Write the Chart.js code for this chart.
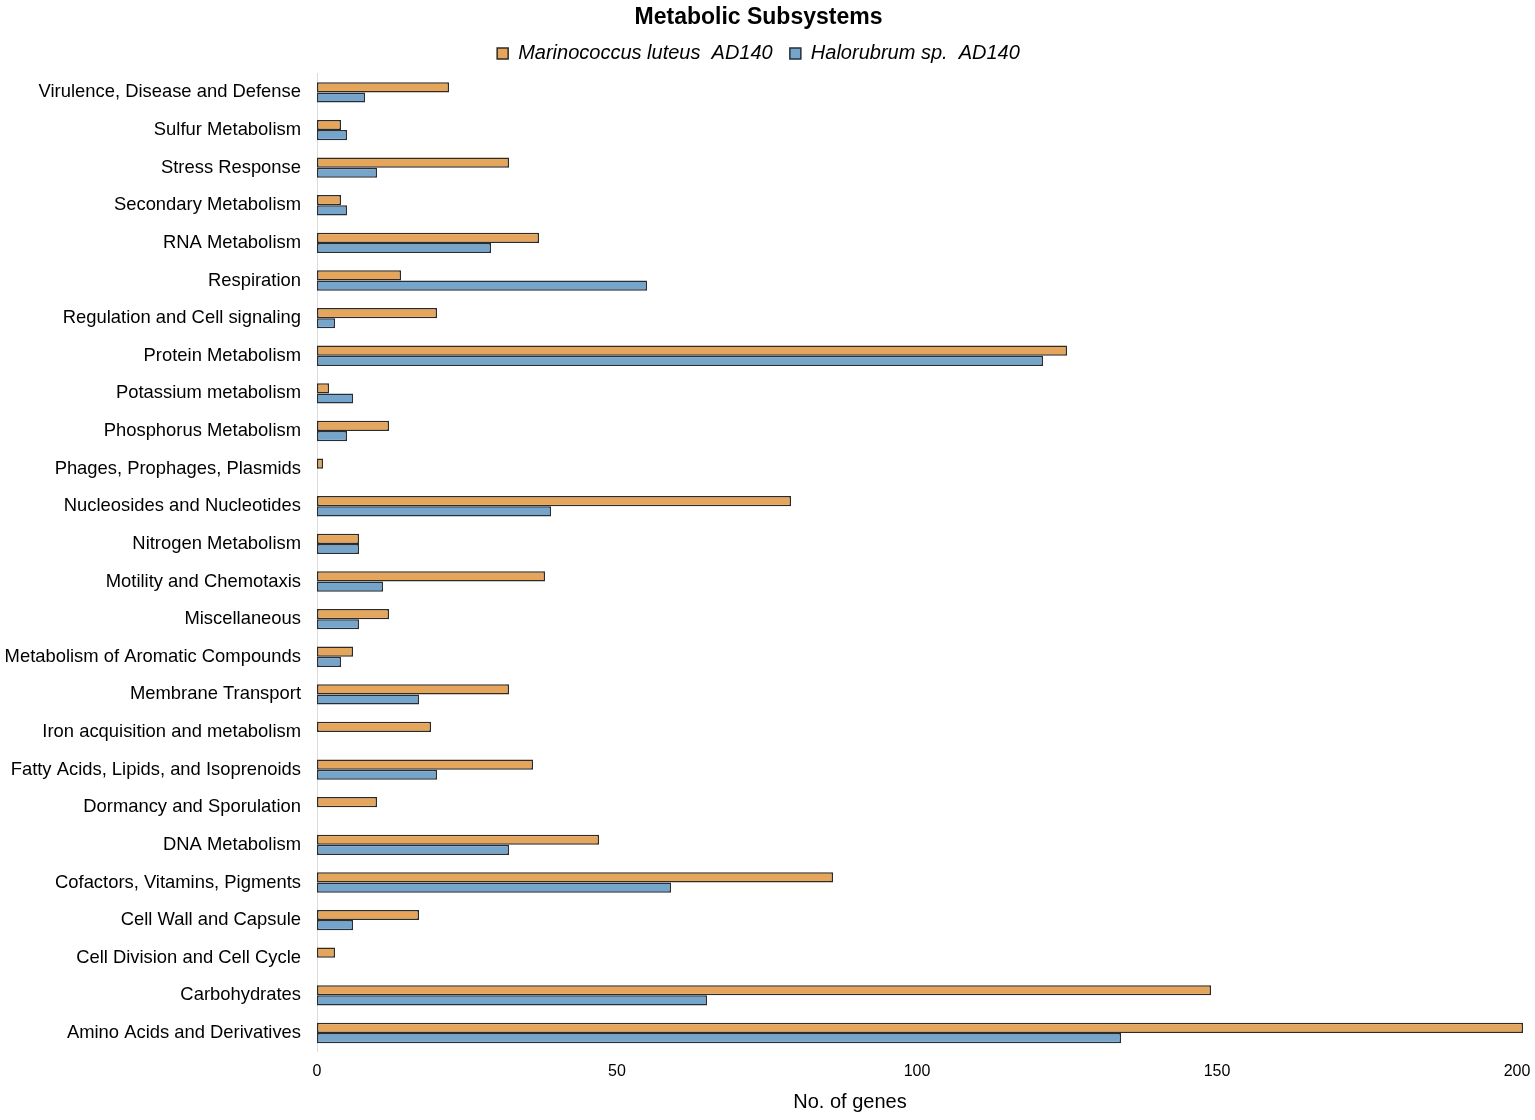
<!DOCTYPE html>
<html>
<head>
<meta charset="utf-8">
<script src="https://cdn.jsdelivr.net/npm/chart.js@4/dist/chart.umd.min.js"></script>
<style>
  html, body { margin: 0; padding: 0; background: #fff; }
  #wrap { width: 1535px; height: 1120px; }
</style>
</head>
<body>
<div id="wrap"><canvas id="chart"></canvas></div>
<script>
const CHART = document.getElementById("chart");

// categories, top to bottom
const subsystems = [
  "Virulence, Disease and Defense",
  "Sulfur Metabolism",
  "Stress Response",
  "Secondary Metabolism",
  "RNA Metabolism",
  "Respiration",
  "Regulation and Cell signaling",
  "Protein Metabolism",
  "Potassium metabolism",
  "Phosphorus Metabolism",
  "Phages, Prophages, Plasmids",
  "Nucleosides and Nucleotides",
  "Nitrogen Metabolism",
  "Motility and Chemotaxis",
  "Miscellaneous",
  "Metabolism of Aromatic Compounds",
  "Membrane Transport",
  "Iron acquisition and metabolism",
  "Fatty Acids, Lipids, and Isoprenoids",
  "Dormancy and Sporulation",
  "DNA Metabolism",
  "Cofactors, Vitamins, Pigments",
  "Cell Wall and Capsule",
  "Cell Division and Cell Cycle",
  "Carbohydrates",
  "Amino Acids and Derivatives",
];

const marinococcus = [22, 4, 32, 4, 37, 14, 20, 125, 2, 12, 1, 79, 7, 38, 12, 6, 32, 19, 36, 10, 47, 86, 17, 3, 149, 201];
const halorubrum = [8, 5, 10, 5, 29, 55, 3, 121, 6, 5, 0, 39, 7, 11, 7, 4, 17, 0, 20, 0, 32, 59, 6, 0, 65, 134];

const xTicks = [0, 50, 100, 150, 200];
const xTitle = "No. of genes";

const FONT = "'Liberation Sans', Arial, sans-serif";

// axis title sits left of the plot centre in the original, so draw it here
const xTitlePlugin = {
  id: "xTitle",
  afterDraw(chart) {
    const ctx = chart.ctx;
    ctx.save();
    ctx.font = "20px " + FONT;
    ctx.fillStyle = "#000";
    ctx.textAlign = "center";
    ctx.textBaseline = "middle";
    ctx.fillText(xTitle, 850, 1102);
    ctx.restore();
  },
};

new Chart(CHART, {
  type: "bar",
  data: {
    labels: subsystems,
    datasets: [
      {
        // trailing spaces widen the gap between the two legend items
        label: "Marinococcus luteus  AD140  ",
        data: marinococcus,
        backgroundColor: "#e5a65c",
        borderColor: "#2e2a26",
        borderWidth: 1.5,
        borderSkipped: false,
        clip: false,
      },
      {
        label: "Halorubrum sp.  AD140",
        data: halorubrum,
        backgroundColor: "#75a5cb",
        borderColor: "#262e38",
        borderWidth: 1.5,
        borderSkipped: false,
        clip: false,
      },
    ],
  },
  plugins: [xTitlePlugin],
  options: {
    indexAxis: "y",
    responsive: true,
    maintainAspectRatio: false,
    animation: false,
    layout: { padding: { left: 0, right: 18, top: 4, bottom: 29 } },
    datasets: {
      bar: { categoryPercentage: 0.54, barPercentage: 1.0 },
    },
    plugins: {
      title: {
        display: true,
        text: "Metabolic Subsystems",
        color: "#000",
        font: { family: FONT, size: 23, weight: "bold" },
        padding: { top: 0, bottom: 6 },
      },
      legend: {
        display: true,
        position: "top",
        labels: {
          color: "#000",
          boxWidth: 11,
          boxHeight: 11,
          padding: 6,
          font: { family: FONT, size: 20, style: "italic" },
        },
      },
      tooltip: { enabled: false },
    },
    scales: {
      x: {
        min: 0,
        max: 200,
        afterBuildTicks: (scale) => {
          scale.ticks = xTicks.map((v) => ({ value: v }));
        },
        afterFit: (scale) => {
          scale.paddingRight = 0;
        },
        grid: { display: false, drawTicks: false },
        border: { display: false },
        ticks: {
          color: "#000",
          padding: 10,
          font: { family: FONT, size: 16 },
        },
      },
      y: {
        afterFit: (scale) => {
          scale.width = 317;
        },
        grid: { display: false, drawTicks: false },
        border: { display: true, color: "#dcdcdc", width: 1 },
        ticks: {
          color: "#000",
          padding: 16,
          autoSkip: false,
          font: { family: FONT, size: 18.4 },
        },
      },
    },
  },
});
</script>
</body>
</html>
